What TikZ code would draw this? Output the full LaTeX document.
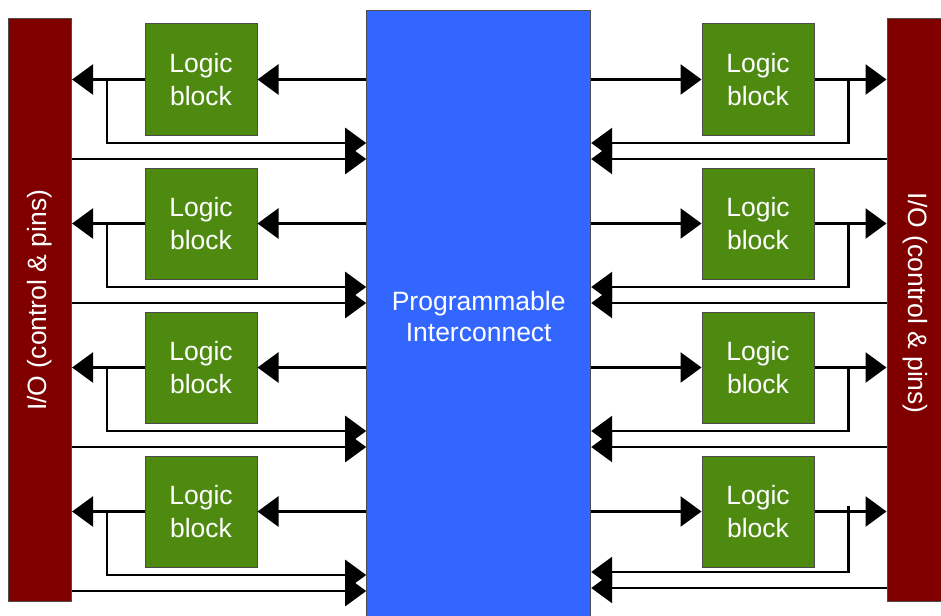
\documentclass[tikz,border=0pt]{standalone}
\usepackage{fontspec}
\usepackage{graphicx}
\setmainfont{Liberation Sans}
\usetikzlibrary{arrows.meta}
\definecolor{iored}{HTML}{800000}
\definecolor{pcblue}{HTML}{3366FF}
\definecolor{lbgreen}{HTML}{4E8A10}
\tikzset{
  iobar/.style={draw=black!70, line width=1pt, fill=iored, text=white,
    inner sep=0pt, font=\fontsize{26.5}{31}\selectfont},
  fabric/.style={draw=black!70, line width=1pt, fill=pcblue, text=white,
    inner sep=0pt, align=center, font=\fontsize{26.5}{31}\selectfont},
  logicbox/.style={draw=black!70, line width=1pt, fill=lbgreen, text=white,
    minimum width=112pt, minimum height=111pt, inner sep=0pt, align=center,
    font=\fontsize{26.5}{33}\selectfont},
  wire/.style={line width=2.8pt, black, line join=miter},
  arr/.style={wire, -{Triangle[length=21pt,width=30pt]}},
}
\begin{document}
\begin{tikzpicture}[x=1pt,y=-1pt]
  \useasboundingbox (0,0) rectangle (941,615);
  \clip (0,0) rectangle (941,615);

  % I/O banks and the routing fabric
  \node[iobar, minimum width=63pt, minimum height=583pt] (iol) at (40.1,310.3)
    {\rotatebox{90}{\hspace*{20pt}I/O (control \& pins)}};
  \node[iobar, minimum width=56pt, minimum height=583pt] (ior) at (915,310.3)
    {\rotatebox{-90}{I/O (control \& pins)\hspace*{14pt}}};
  \node[fabric, minimum width=224pt, minimum height=612pt] (pi) at (478.7,317)
    {Programmable\\Interconnect};

  % logic blocks on both sides
  \foreach \i in {1,...,4} {
    \pgfmathsetmacro\yc{79.5+144*(\i-1)}
    \node[logicbox] (L\i) at (201,\yc) {Logic\\block};
    \node[logicbox] (R\i) at (758,\yc) {Logic\\block};
  }

  % wiring of each row
  \foreach \i/\o in {1/0,2/0,3/0,4/6} {
    \pgfmathsetmacro\yc{79.5+144*(\i-1)}
    \pgfmathsetmacro\yf{\yc+63.5}
    \pgfmathsetmacro\yo{\yc+79.5}
    \coordinate (lb\i) at (107,\yc);
    \coordinate (lf\i) at (107,\yf);
    \coordinate (lo\i) at (107,\yo);
    \coordinate (rb\i) at (848.5,\yc-\o);
    \coordinate (rf\i) at (848.5,\yf-\o*0.5);
    \coordinate (ro\i) at (848.5,\yo-\o*0.5);

    % left side
    \draw[arr] (pi.west |- L\i.east) -- (L\i.east);
    \draw[arr] (L\i.west) -- (iol.east |- L\i.west);
    \draw[arr] (lb\i) -- (lf\i) -- (pi.west |- lf\i);
    \draw[arr] (iol.east |- lo\i) -- (pi.west |- lo\i);

    % right side
    \draw[arr] (pi.east |- R\i.west) -- (R\i.west);
    \draw[arr] (R\i.east) -- (ior.west |- R\i.east);
    \draw[arr] (rb\i) -- (rf\i) -- (pi.east |- rf\i);
    \draw[arr] (ior.west |- ro\i) -- (pi.east |- ro\i);
  }
\end{tikzpicture}
\end{document}
